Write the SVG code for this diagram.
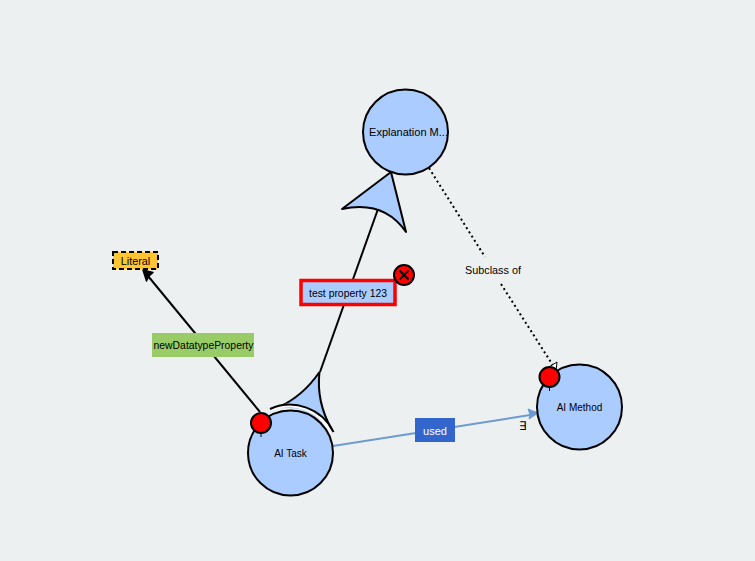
<svg xmlns="http://www.w3.org/2000/svg" width="755" height="561" viewBox="0 0 755 561">
<style>
text{font-family:"Liberation Sans",Arial,sans-serif;font-size:10.4px;fill:#000;text-anchor:middle}
.c{fill:#aaccff;stroke:#000;stroke-width:2}
.l{fill:none;stroke:#000;stroke-width:2}
.a{fill:#aaccff;stroke:#000;stroke-width:2;stroke-linejoin:round}
.r{fill:#ff0000;stroke:#000;stroke-width:2}
</style>
<rect width="755" height="561" fill="#ecf0f1"/>
<g id="connectors">
<path class="l" d="M260 412L148 276"/>
<path d="M143 270L153 272.500L149 276L146.500 281Z" fill="#000" stroke="#000" stroke-width="1.500" stroke-linejoin="round"/>
<path class="l" d="M320 372L378 209"/>
<path d="M319.500 372Q316 402 332 430L300 409L279 407Q303 396 319.500 372Z" fill="#aaccff"/>
<path d="M319.500 372Q316 402 332 430M319.500 372Q303 396 279 407" fill="none" stroke="#000" stroke-width="2" stroke-linejoin="round"/>
<path d="M272.500 408.500A46 46 0 0 1 331 433" fill="none" stroke="#fff" stroke-width="3.500"/>
<path d="M270 409A48.500 48.500 0 0 1 333.500 432" fill="none" stroke="#000" stroke-width="2"/>
<path class="a" d="M391 172L342 209Q384 200 406 232Z"/>
<path d="M429 168L485 257M501 284L554 367" fill="none" stroke="#000" stroke-width="2" stroke-dasharray="2 3"/>
<path d="M333 446L530 415" fill="none" stroke="#6c9bd1" stroke-width="2"/>
<path d="M538 413L528 409L530 414.500L529 419Z" fill="#6c9bd1" stroke="#6c9bd1" stroke-linejoin="round"/>
<path d="M549 367L557 362L556 371Z" fill="#fff" stroke="#000"/>
<text x="522.500" y="430" style="font-size:12px">∃</text>
</g>
<g id="node-explanation"><circle class="c" cx="405.500" cy="132" r="42.500"/><text x="408.500" y="136" style="font-size:11px">Explanation M...</text></g>
<g id="node-task"><circle class="c" cx="290.500" cy="453" r="42.500"/><text x="290.500" y="457" style="font-size:10px">AI Task</text></g>
<g id="node-method"><circle class="c" cx="579.500" cy="407" r="42.500"/><text x="579.500" y="411" style="font-size:10px">AI Method</text></g>
<g id="node-literal"><rect x="113" y="252" width="45" height="17" fill="#ffc533" stroke="#000" stroke-width="2" stroke-dasharray="5 3"/><text x="135.500" y="265" style="font-size:10.800px">Literal</text></g>
<g id="label-datatype"><rect x="152" y="333" width="102" height="24" fill="#99cc66"/><text x="203.500" y="349">newDatatypeProperty</text></g>
<g id="label-test"><rect x="301" y="280.500" width="94" height="24" fill="#aaccff" stroke="#ff0000" stroke-width="3.500"/><text x="348" y="296.500">test property 123</text></g>
<g id="label-used"><rect x="415" y="418" width="40" height="24" fill="#3366cc"/><text x="435" y="434.500" style="fill:#fff;font-size:11px">used</text></g>
<g id="label-subclass"><text x="493" y="274" style="font-size:10.800px">Subclass of</text></g>
<g id="marker-task"><circle class="r" cx="261" cy="423" r="10"/><path d="M261 433V437" stroke="#000"/></g>
<g id="marker-method"><circle class="r" cx="549.500" cy="377" r="10"/><path d="M549.500 387V391" stroke="#000"/></g>
<g id="marker-delete"><circle class="r" cx="404" cy="275" r="10"/><path d="M399.500 270.500L408.500 279.500M408.500 270.500L399.500 279.500" stroke="#000" stroke-width="2"/></g>
</svg>
